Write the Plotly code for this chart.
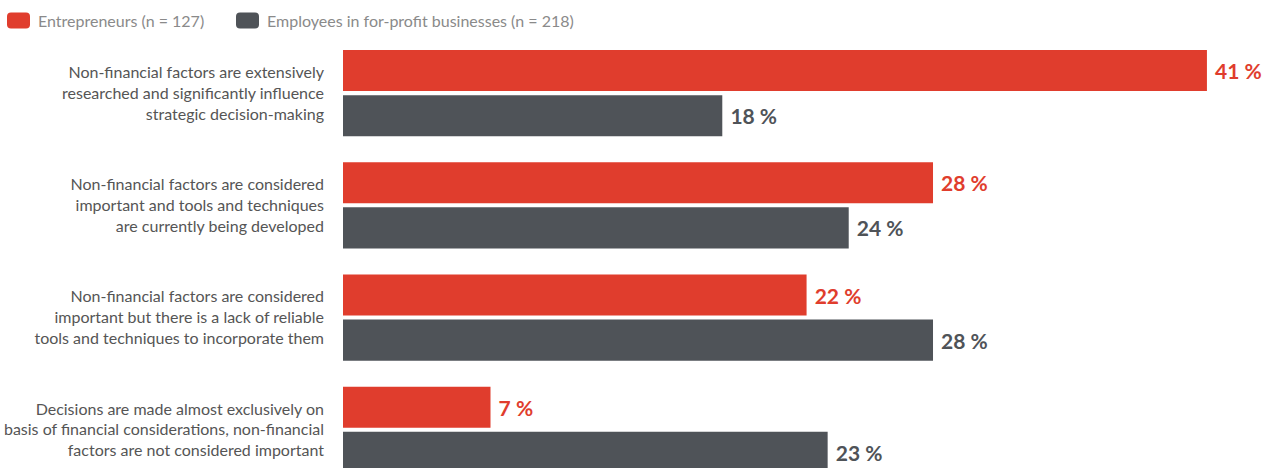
import plotly.graph_objects as go

categories = [
    "Non-financial factors are extensively<br>researched and significantly influence<br>strategic decision-making",
    "Non-financial factors are considered<br>important and tools and techniques<br>are currently being developed",
    "Non-financial factors are considered<br>important but there is a lack of reliable<br>tools and techniques to incorporate them",
    "Decisions are made almost exclusively on<br>basis of financial considerations, non-financial<br>factors are not considered important",
]
entrepreneurs = [41, 28, 22, 7]
employees = [18, 24, 28, 23]
series_names = ["Entrepreneurs (n = 127)", "Employees in for-profit businesses (n = 218)"]

RED = "#E03D2D"
GREY = "#4F5358"
colors = [RED, GREY]

fig = go.Figure()
for name, vals, col in [(series_names[0], entrepreneurs, RED), (series_names[1], employees, GREY)]:
    fig.add_trace(go.Bar(
        y=categories, x=vals, orientation="h", name=name,
        marker=dict(color=col, line=dict(width=0)),
        text=["\u00a0" + f"{v} %" for v in vals],
        textposition="outside",
        textfont=dict(family="Lato", size=21, color=col, weight="bold"),
        constraintext="none",
        cliponaxis=False,
        showlegend=False,
    ))

# custom legend (rounded swatches + labels), positioned in pixels above the plot
W_PLOT = 1275 - 343
H_PLOT = 468 - 37
legend_y = 1 + (37 - 20.5) / H_PLOT
swatch_px = [7, 236]
text_px = [36, 265]


def rounded_path(w, h, r):
    # pixel path centered vertically at anchor, starting at x=0
    y0, y1 = -h / 2, h / 2
    return (f"M {r},{y0} L {w-r},{y0} Q {w},{y0} {w},{y0+r} L {w},{y1-r} "
            f"Q {w},{y1} {w-r},{y1} L {r},{y1} Q 0,{y1} 0,{y1-r} L 0,{y0+r} Q 0,{y0} {r},{y0} Z")


for i, name in enumerate(series_names):
    fig.add_shape(
        type="path", xref="paper", yref="paper",
        xsizemode="pixel", ysizemode="pixel",
        xanchor=(swatch_px[i] - 343) / W_PLOT, yanchor=legend_y,
        path=rounded_path(23, 16, 4),
        fillcolor=colors[i], line=dict(width=0),
    )
    fig.add_annotation(
        x=(text_px[i] - 343) / W_PLOT, y=legend_y, xref="paper", yref="paper",
        xanchor="left", yanchor="middle", showarrow=False, text=name,
        font=dict(family="Lato", size=16, color="#8a8a8a"),
    )

fig.update_layout(
    width=1275, height=468,
    margin=dict(l=343, r=0, t=37, b=0),
    paper_bgcolor="white", plot_bgcolor="white",
    barmode="group", bargap=0.196, bargroupgap=0.089,
    showlegend=False,
    xaxis=dict(range=[0, 44.23], visible=False, showgrid=False, zeroline=False),
    yaxis=dict(type="category", range=[3.34, -0.5], showgrid=False, zeroline=False,
               showline=False, ticks="", ticklabelstandoff=18,
               tickfont=dict(family="Lato", size=16, color="#555555")),
)

fig.write_html("out.html")
